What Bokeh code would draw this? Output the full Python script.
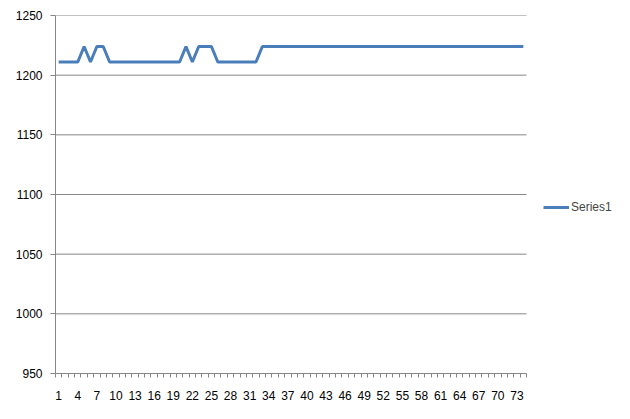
from bokeh.plotting import figure
from bokeh.models import FixedTicker, Legend, LegendItem, Range1d
from bokeh.embed import file_html
from bokeh.resources import INLINE

categories = list(range(1, 75))
series1 = [1211, 1211, 1211, 1211, 1224, 1211, 1224, 1224, 1211, 1211,
           1211, 1211, 1211, 1211, 1211, 1211, 1211, 1211, 1211, 1211,
           1224, 1211, 1224, 1224, 1224, 1211, 1211, 1211, 1211, 1211,
           1211, 1211] + [1224] * 42
x_tick_labels = {c: str(c) for c in categories if (c - 1) % 3 == 0}
y_ticks = [950, 1000, 1050, 1100, 1150, 1200, 1250]

FONT = "Liberation Sans"
GRAY = "#868686"

n = len(categories)
plot_px = 471.0            # width of the category area in pixels
frame_px = 614 - 55        # frame spans to the right edge so the legend fits
x_end = 0.5 + frame_px * n / plot_px

p = figure(width=614, height=403, output_backend="svg", toolbar_location=None,
           x_range=Range1d(0.5, x_end), y_range=Range1d(950, 1250),
           min_border_left=55, min_border_top=15, min_border_bottom=30, min_border_right=0)
p.outline_line_color = None
p.background_fill_color = "white"
p.border_fill_color = "white"
p.xgrid.grid_line_color = None
p.ygrid.grid_line_color = None

# horizontal gridlines limited to the category area
p.segment(x0=[0.5] * len(y_ticks), y0=y_ticks, x1=[n + 0.5] * len(y_ticks), y1=y_ticks,
          line_color=GRAY, line_width=1)

r = p.line(categories, series1, line_color="#4A7EBB", line_width=3)

p.xaxis.bounds = (0.5, n + 0.5)
p.xaxis.ticker = FixedTicker(ticks=list(x_tick_labels.keys()),
                             minor_ticks=[c - 0.5 for c in categories] + [n + 0.5])
p.xaxis.major_label_overrides = x_tick_labels
p.xaxis.major_tick_out = 0
p.xaxis.major_tick_in = 0
p.xaxis.minor_tick_out = 4
p.xaxis.minor_tick_in = 0
p.xaxis.minor_tick_line_color = GRAY
p.xaxis.major_label_standoff = 13

p.yaxis.ticker = FixedTicker(ticks=y_ticks)
p.yaxis.major_tick_out = 5
p.yaxis.major_tick_in = 0
p.yaxis.minor_tick_line_color = None
p.yaxis.major_label_standoff = 8

for ax in (p.xaxis, p.yaxis):
    ax.axis_line_color = GRAY
    ax.major_tick_line_color = GRAY
    ax.major_label_text_font = FONT
    ax.major_label_text_font_size = "12px"
    ax.major_label_text_color = "black"

legend = Legend(items=[LegendItem(label="Series1", renderers=[r])],
                location=(488, 156), border_line_color=None, background_fill_alpha=0,
                label_text_font=FONT, label_text_font_size="12px",
                glyph_width=26, label_standoff=2, padding=0, margin=0)
p.add_layout(legend)

open("out.html", "w").write(file_html(p, INLINE))
